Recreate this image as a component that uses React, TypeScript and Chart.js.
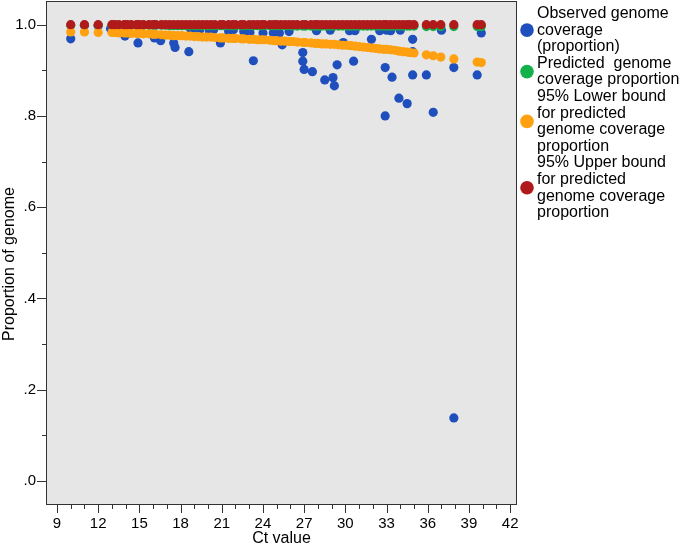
import React, { useEffect, useRef } from "react";
import { Chart, registerables } from "chart.js";

Chart.register(...registerables);

// ---------- data ----------
const modelCt = [
  10, 11, 12, 13.0, 13.2, 13.5, 13.9, 14.1, 14.4, 14.8,
  15.0, 15.3, 15.7, 16.0, 16.2, 16.6, 16.9, 17.2, 17.5, 17.8,
  18.1, 18.4, 18.7, 19.0, 19.3, 19.6, 19.9, 20.2, 20.5, 20.9,
  21.1, 21.5, 21.8, 22.0, 22.4, 22.6, 23.0, 23.3, 23.6, 23.9,
  24.1, 24.5, 24.8, 25.0, 25.3, 25.6, 25.9, 26.2, 26.5, 26.9,
  27.1, 27.5, 27.8, 28.0, 28.3, 28.6, 28.9, 29.2, 29.5, 29.8,
  30.1, 30.4, 30.7, 31.0, 31.3, 31.6, 31.9, 32.2, 32.5, 32.8,
  33.0, 33.3, 33.6, 33.9, 34.2, 34.5, 34.7, 35.0, 35.9, 36.4,
  36.95, 37.9, 39.6, 39.9,
];

const predicted = [
  0.999, 0.999, 0.999, 0.999, 0.999, 0.999, 0.999, 0.999, 0.999, 0.999,
  0.999, 0.999, 0.999, 0.999, 0.999, 0.999, 0.999, 0.998, 0.998, 0.998,
  0.998, 0.998, 0.998, 0.998, 0.998, 0.998, 0.998, 0.998, 0.998, 0.998,
  0.998, 0.998, 0.998, 0.998, 0.998, 0.998, 0.998, 0.998, 0.998, 0.998,
  0.998, 0.998, 0.998, 0.998, 0.998, 0.998, 0.998, 0.997, 0.997, 0.997,
  0.997, 0.997, 0.997, 0.997, 0.997, 0.997, 0.997, 0.997, 0.997, 0.997,
  0.997, 0.997, 0.997, 0.997, 0.997, 0.997, 0.997, 0.997, 0.997, 0.997,
  0.997, 0.997, 0.997, 0.997, 0.997, 0.997, 0.997, 0.997, 0.996, 0.996,
  0.996, 0.996, 0.996, 0.996,
];

const lowerBound = [
  0.984, 0.984, 0.983, 0.983, 0.983, 0.982, 0.982, 0.982, 0.981, 0.981,
  0.981, 0.980, 0.980, 0.979, 0.979, 0.978, 0.977, 0.977, 0.976, 0.976,
  0.976, 0.975, 0.975, 0.974, 0.974, 0.973, 0.973, 0.973, 0.972, 0.971,
  0.971, 0.970, 0.970, 0.970, 0.969, 0.969, 0.968, 0.968, 0.967, 0.967,
  0.967, 0.966, 0.965, 0.965, 0.964, 0.964, 0.963, 0.963, 0.962, 0.961,
  0.961, 0.960, 0.959, 0.959, 0.958, 0.958, 0.957, 0.957, 0.956, 0.955,
  0.955, 0.954, 0.953, 0.952, 0.951, 0.950, 0.949, 0.948, 0.947, 0.946,
  0.946, 0.945, 0.944, 0.942, 0.941, 0.940, 0.939, 0.938, 0.934, 0.932,
  0.929, 0.925, 0.918, 0.917,
];

const upperBound = [
  1.0, 1.0, 1.0, 1.0, 1.0, 1.0, 1.0, 1.0, 1.0, 1.0,
  1.0, 1.0, 1.0, 1.0, 1.0, 1.0, 1.0, 1.0, 1.0, 1.0,
  1.0, 1.0, 1.0, 1.0, 1.0, 1.0, 1.0, 1.0, 1.0, 1.0,
  1.0, 1.0, 1.0, 1.0, 1.0, 1.0, 1.0, 1.0, 1.0, 1.0,
  1.0, 1.0, 1.0, 1.0, 1.0, 1.0, 1.0, 1.0, 1.0, 1.0,
  1.0, 1.0, 1.0, 1.0, 1.0, 1.0, 1.0, 1.0, 1.0, 1.0,
  1.0, 1.0, 1.0, 1.0, 1.0, 1.0, 1.0, 1.0, 1.0, 1.0,
  1.0, 1.0, 1.0, 1.0, 1.0, 1.0, 1.0, 1.0, 1.0, 1.0,
  1.0, 1.0, 1.0, 1.0,
];

const observedCt = [
  10.0, 11.0, 12.0, 12.9, 13.95, 14.9, 16.1, 16.55, 17.5, 17.6,
  18.6, 18.7, 18.8, 19.4, 20.1, 20.4, 20.9, 21.5, 21.85, 22.6,
  23.05, 23.3, 24.0, 24.75, 25.2, 25.4, 25.9, 26.9, 26.9, 27.0,
  27.6, 27.9, 28.5, 28.9, 29.1, 29.2, 29.4, 29.85, 30.3, 30.6,
  30.7, 31.9, 32.5, 32.9, 32.9, 33.0, 33.3, 33.4, 33.9, 34.0,
  34.5, 34.9, 34.9, 34.9, 35.9, 36.4, 37.0, 37.9, 37.9, 39.6,
  39.9,
];

const observedCoverage = [
  0.969, 0.999, 0.998, 0.991, 0.975, 0.960, 0.971, 0.965, 0.960, 0.950,
  0.941, 0.993, 0.989, 0.989, 0.985, 0.989, 0.960, 0.985, 0.989, 0.985,
  0.983, 0.921, 0.982, 0.982, 0.982, 0.956, 0.985, 0.939, 0.920, 0.902,
  0.897, 0.987, 0.879, 0.988, 0.884, 0.866, 0.912, 0.961, 0.987, 0.920,
  0.987, 0.968, 0.987, 0.906, 0.800, 0.988, 0.987, 0.885, 0.839, 0.988,
  0.827, 0.968, 0.941, 0.890, 0.890, 0.808, 0.988, 0.906, 0.138, 0.890,
  0.982,
];

const xTicks = [
  9, 10, 11, 12, 13, 14, 15, 16, 17, 18, 19, 20, 21, 22, 23, 24, 25,
  26, 27, 28, 29, 30, 31, 32, 33, 34, 35, 36, 37, 38, 39, 40, 41, 42,
];
const xTickLabels = [
  "9", "", "", "12", "", "", "15", "", "", "18", "", "", "21", "", "", "24", "",
  "", "27", "", "", "30", "", "", "33", "", "", "36", "", "", "39", "", "", "42",
];
const yTicks = [0, 0.1, 0.2, 0.3, 0.4, 0.5, 0.6, 0.7, 0.8, 0.9, 1.0];
const yTickLabels = [".0", "", ".2", "", ".4", "", ".6", "", ".8", "", "1.0"];

const xTitle = "Ct value";
const yTitle = "Proportion of genome";

const legendLines = [
  ["Observed genome", "coverage", "(proportion)"],
  ["Predicted  genome", "coverage proportion"],
  ["95% Lower bound", "for predicted", "genome coverage", "proportion"],
  ["95% Upper bound", "for predicted", "genome coverage", "proportion"],
];
const seriesColors = ["#1f4fbd", "#14b04b", "#ffa010", "#b01a1a"];

const FONT = '"Liberation Sans", Arial, Helvetica, sans-serif';
const PLOT_BG = "#e6e6e6";

const decorPlugin = {
  id: "decor",
  beforeDraw(chart: any) {
    const { ctx, chartArea: a } = chart;
    ctx.save();
    ctx.fillStyle = PLOT_BG;
    ctx.fillRect(a.left, a.top, a.right - a.left, a.bottom - a.top);
    ctx.restore();
  },
  afterDraw(chart: any) {
    const { ctx, chartArea: a, scales } = chart;
    ctx.save();
    ctx.strokeStyle = "#333";
    ctx.lineWidth = 1;
    ctx.strokeRect(a.left + 0.5, a.top + 0.5, a.right - a.left - 1, a.bottom - a.top - 1);

    ctx.beginPath();
    yTicks.forEach((v, i) => {
      const y = Math.round(scales.y.getPixelForValue(v)) + 0.5;
      const len = yTickLabels[i] ? 9 : 4;
      ctx.moveTo(a.left - len, y);
      ctx.lineTo(a.left, y);
    });
    xTicks.forEach((v, i) => {
      const x = Math.round(scales.x.getPixelForValue(v)) + 0.5;
      const len = xTickLabels[i] ? 8 : 4;
      ctx.moveTo(x, a.bottom);
      ctx.lineTo(x, a.bottom + len);
    });
    ctx.stroke();

    // axis titles
    ctx.fillStyle = "#000";
    ctx.font = `16px ${FONT}`;
    ctx.textAlign = "center";
    ctx.textBaseline = "middle";
    ctx.fillText(xTitle, (a.left + a.right) / 2, 539);
    ctx.save();
    ctx.translate(10, 264);
    ctx.rotate(-Math.PI / 2);
    ctx.fillText(yTitle, 0, 0);
    ctx.restore();

    // legend
    const lh = 16.6;
    let line = 0;
    ctx.textAlign = "left";
    legendLines.forEach((lines, k) => {
      const firstY = 13.5 + line * lh;
      const midY = firstY + ((lines.length - 1) * lh) / 2;
      ctx.beginPath();
      ctx.fillStyle = seriesColors[k];
      ctx.arc(527, midY, 6.8, 0, Math.PI * 2);
      ctx.fill();
      ctx.fillStyle = "#000";
      lines.forEach((t, j) => {
        ctx.fillText(t, 537, firstY + j * lh);
      });
      line += lines.length;
    });
    ctx.restore();
  },
};

export default function App() {
  const canvasRef = useRef<HTMLCanvasElement | null>(null);

  useEffect(() => {
    if (!canvasRef.current) return;
    const pt = (xs: number[], ys: number[]) => xs.map((x, i) => ({ x, y: ys[i] }));
    const ds = (label: string, data: any[], color: string, order: number) => ({
      label,
      data,
      backgroundColor: color,
      borderColor: color,
      borderWidth: 0,
      pointRadius: 4.6,
      pointHoverRadius: 4.6,
      order,
    });
    const chart = new Chart(canvasRef.current, {
      type: "scatter",
      data: {
        datasets: [
          ds(legendLines[0].join(" "), pt(observedCt, observedCoverage), seriesColors[0], 4),
          ds(legendLines[1].join(" "), pt(modelCt, predicted), seriesColors[1], 3),
          ds(legendLines[2].join(" "), pt(modelCt, lowerBound), seriesColors[2], 2),
          ds(legendLines[3].join(" "), pt(modelCt, upperBound), seriesColors[3], 1),
        ],
      },
      options: {
        responsive: false,
        animation: false,
        devicePixelRatio: 1,
        events: [],
        layout: { autoPadding: false, padding: { top: 1, right: 163, left: 0, bottom: 0 } },
        plugins: { legend: { display: false }, tooltip: { enabled: false } },
        scales: {
          x: {
            type: "linear",
            min: 8.2,
            max: 42.5,
            grid: { display: false, drawTicks: false },
            border: { display: false },
            afterFit: (s: any) => {
              s.height = 42;
              s.paddingLeft = 0;
              s.paddingRight = 0;
              s.paddingTop = 0;
              s.paddingBottom = 0;
            },
            afterBuildTicks: (s: any) => {
              s.ticks = xTicks.map((v) => ({ value: v }));
            },
            ticks: {
              autoSkip: false,
              maxRotation: 0,
              minRotation: 0,
              padding: 10,
              color: "#000",
              font: { family: FONT, size: 15 },
              callback: (_v: any, i: number) => xTickLabels[i],
            },
          },
          y: {
            type: "linear",
            min: -0.053,
            max: 1.052,
            grid: { display: false, drawTicks: false },
            border: { display: false },
            afterFit: (s: any) => {
              s.width = 46;
              s.paddingLeft = 0;
              s.paddingRight = 0;
              s.paddingTop = 0;
              s.paddingBottom = 0;
            },
            afterBuildTicks: (s: any) => {
              s.ticks = yTicks.map((v) => ({ value: v }));
            },
            ticks: {
              autoSkip: false,
              padding: 10,
              color: "#000",
              font: { family: FONT, size: 15 },
              callback: (_v: any, i: number) => yTickLabels[i],
            },
          },
        },
      },
      plugins: [decorPlugin],
    });
    return () => chart.destroy();
  }, []);

  return (
    <div style={{ position: "absolute", left: 0, top: 0, width: 680, height: 547, background: "#fff" }}>
      <canvas ref={canvasRef} width={680} height={547} />
    </div>
  );
}
